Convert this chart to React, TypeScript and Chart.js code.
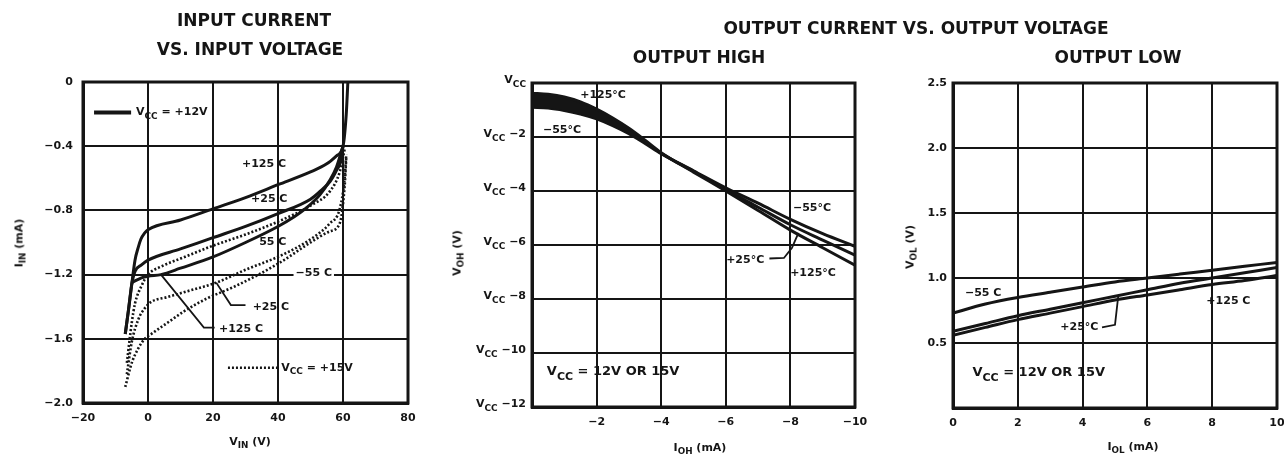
import React, { useEffect, useRef } from 'react';
import { Chart, registerables } from 'chart.js';

Chart.register(...registerables);

const INK = '#151515';
const FAM = "'DejaVu Sans', 'Liberation Sans', sans-serif";

// ---------- Panel 1: input current vs input voltage ----------
const P1_S125_X = [-7, -6, -5, -4, -3, -2.2, -1, 0, 10, 20, 30, 40, 50, 55, 58, 60, 61, 61.5];
const P1_S125_Y = [-1.57, -1.42, -1.26, -1.11, -1.03, -0.98, -0.94, -0.92, -0.86, -0.79, -0.72, -0.64, -0.56, -0.51, -0.46, -0.4, -0.2, 0];
const P1_S25_X = [-7, -6, -5, -4, -2, 0, 10, 20, 30, 40, 50, 53, 56, 58, 59.5, 60];
const P1_S25_Y = [-1.57, -1.42, -1.26, -1.18, -1.14, -1.11, -1.04, -0.97, -0.9, -0.82, -0.73, -0.68, -0.62, -0.55, -0.48, -0.4];
const P1_SM55_X = [-5, -2, 0, 4, 10, 20, 30, 40, 45, 49, 53, 56, 58, 60];
const P1_SM55_Y = [-1.25, -1.22, -1.21, -1.2, -1.16, -1.09, -1.0, -0.9, -0.84, -0.78, -0.7, -0.61, -0.53, -0.4];
const P1_D125_X = [-6.5, -5, -4, -2, 0, 4, 10, 20, 30, 40, 50, 56, 59, 60.5];
const P1_D125_Y = [-1.75, -1.5, -1.38, -1.27, -1.2, -1.15, -1.1, -1.02, -0.95, -0.87, -0.77, -0.68, -0.56, -0.42];
const P1_D25_X = [-6.5, -5, -3, -1, 1, 6, 11, 21, 30, 41, 50, 56, 59, 60.5, 61];
const P1_D25_Y = [-1.82, -1.62, -1.48, -1.41, -1.37, -1.34, -1.31, -1.25, -1.17, -1.08, -0.98, -0.88, -0.79, -0.6, -0.45];
const P1_DM55_X = [-7, -5, -3, -1, 1, 6, 11, 18, 26, 34, 41, 50, 56, 59, 60.5, 61];
const P1_DM55_Y = [-1.9, -1.75, -1.66, -1.6, -1.57, -1.5, -1.43, -1.35, -1.28, -1.2, -1.12, -1.0, -0.93, -0.88, -0.65, -0.47];

// ---------- Panel 2: output high ----------
const P2_X = [0, -0.5, -1, -1.5, -2, -2.5, -3, -3.5, -4, -5, -6, -7, -8, -9, -10];
const P2_125 = [-0.38, -0.42, -0.52, -0.7, -0.97, -1.3, -1.68, -2.12, -2.58, -3.3, -4.0, -4.72, -5.45, -6.1, -6.75];
const P2_25 = [-0.63, -0.66, -0.74, -0.9, -1.14, -1.44, -1.78, -2.18, -2.6, -3.27, -3.95, -4.6, -5.25, -5.82, -6.38];
const P2_M55 = [-0.9, -0.93, -1.02, -1.15, -1.33, -1.58, -1.88, -2.24, -2.62, -3.25, -3.88, -4.45, -5.05, -5.58, -6.05];

// ---------- Panel 3: output low ----------
const P3_X = [0, 1, 2, 3, 4, 5, 6, 7, 8, 9, 10];
const P3_M55 = [0.73, 0.8, 0.85, 0.89, 0.93, 0.97, 1.0, 1.03, 1.06, 1.09, 1.12];
const P3_25 = [0.59, 0.65, 0.71, 0.76, 0.81, 0.86, 0.91, 0.96, 1.0, 1.04, 1.08];
const P3_125 = [0.56, 0.62, 0.68, 0.73, 0.78, 0.83, 0.87, 0.91, 0.95, 0.98, 1.02];

const W = 1284;
const H = 460;

type Note = { x: number; y: number; text: string; size?: number; align?: 'left' | 'center' | 'right'; bg?: boolean };
type Lead = { xs: number[]; ys: number[]; w?: number; dash?: number[] };

const P1_NOTES: Note[] = [
  { x: 35.7, y: -0.51, text: '+125 C' },
  { x: 37.3, y: -0.73, text: '+25 C' },
  { x: 38.4, y: -1.0, text: '55 C' },
  { x: 51, y: -1.19, text: '−55 C', bg: true },
  { x: 37.8, y: -1.4, text: '+25 C' },
  { x: 28.6, y: -1.54, text: '+125 C' },
  { x: -3.7, y: -0.19, text: 'V_{CC} = +12V', align: 'left' },
  { x: 41, y: -1.78, text: 'V_{CC} = +15V', align: 'left' },
];
const P1_LEADS: Lead[] = [
  { xs: [21, 25.5, 30], ys: [-1.25, -1.39, -1.39] },
  { xs: [4, 17.2, 20.5], ys: [-1.2, -1.53, -1.53] },
  { xs: [-16.6, -5.2], ys: [-0.19, -0.19], w: 4 },
  { xs: [24.6, 40], ys: [-1.78, -1.78], w: 2.5, dash: [2, 2] },
];

const P2_NOTES: Note[] = [
  { x: -2.2, y: -0.44, text: '+125°C' },
  { x: -0.93, y: -1.74, text: '−55°C' },
  { x: -8.67, y: -4.63, text: '−55°C' },
  { x: -6.6, y: -6.56, text: '+25°C' },
  { x: -8.7, y: -7.04, text: '+125°C' },
  { x: -0.46, y: -10.7, text: 'V_{CC} = 12V OR 15V', align: 'left', size: 13 },
];
const P2_LEADS: Lead[] = [
  { xs: [-7.35, -7.8, -8.05, -8.25], ys: [-6.5, -6.48, -6.1, -5.55] },
];

const P3_NOTES: Note[] = [
  { x: 0.93, y: 0.88, text: '−55 C' },
  { x: 3.9, y: 0.62, text: '+25°C' },
  { x: 8.5, y: 0.82, text: '+125 C' },
  { x: 0.6, y: 0.27, text: 'V_{CC} = 12V OR 15V', align: 'left', size: 13 },
];
const P3_LEADS: Lead[] = [
  { xs: [4.6, 5.0, 5.1], ys: [0.62, 0.64, 0.86] },
];

function pts(xs: number[], ys: number[]) {
  return xs.map((x, i) => ({ x, y: ys[i] }));
}

function parseRich(s: string): [string, boolean][] {
  const out: [string, boolean][] = [];
  const re = /_\{([^}]*)\}/g;
  let last = 0;
  let m: RegExpExecArray | null;
  while ((m = re.exec(s))) {
    if (m.index > last) out.push([s.slice(last, m.index), false]);
    out.push([m[1], true]);
    last = re.lastIndex;
  }
  if (last < s.length) out.push([s.slice(last), false]);
  return out;
}

function drawRich(ctx: CanvasRenderingContext2D, px: number, py: number, text: string, size: number, align: string, bg = false) {
  const parts = parseRich(text);
  const sub = Math.round(size * 0.82);
  const f = (s: boolean) => `bold ${s ? sub : size}px ${FAM}`;
  let total = 0;
  const ws = parts.map(([t, s]) => {
    ctx.font = f(s);
    const w = ctx.measureText(t).width;
    total += w;
    return w;
  });
  let cx = align === 'left' ? px : align === 'right' ? px - total : px - total / 2;
  if (bg) {
    ctx.fillStyle = '#fff';
    ctx.fillRect(cx - 2, py - size * 0.6, total + 4, size * 1.2);
  }
  ctx.fillStyle = INK;
  ctx.textBaseline = 'middle';
  ctx.textAlign = 'left';
  parts.forEach(([t, s], i) => {
    ctx.font = f(s);
    ctx.fillText(t, cx, s ? py + size * 0.38 : py);
    cx += ws[i];
  });
}

function annot(notes: Note[], leads: Lead[], vccTicks: boolean) {
  return {
    id: 'annot',
    afterDatasetsDraw(chart: any) {
      const { ctx, chartArea: a } = chart;
      const x = chart.scales.x;
      const y = chart.scales.y;
      ctx.save();
      ctx.strokeStyle = INK;
      ctx.lineWidth = 3;
      ctx.strokeRect(a.left, a.top, a.right - a.left, a.bottom - a.top);
      leads.forEach((l) => {
        ctx.beginPath();
        l.xs.forEach((v, i) => {
          const px = x.getPixelForValue(v);
          const py = y.getPixelForValue(l.ys[i]);
          if (i) ctx.lineTo(px, py);
          else ctx.moveTo(px, py);
        });
        ctx.lineWidth = l.w || 1.8;
        ctx.setLineDash(l.dash || []);
        ctx.stroke();
      });
      ctx.setLineDash([]);
      notes.forEach((n) =>
        drawRich(ctx, x.getPixelForValue(n.x), y.getPixelForValue(n.y), n.text, n.size || 11, n.align || 'center', !!n.bg)
      );
      if (vccTicks) {
        y.ticks.forEach((t: any) => {
          const v = t.value;
          const txt = v === 0 ? 'V_{CC}' : `V_{CC} −${Math.abs(v)}`;
          drawRich(ctx, a.left - 6, y.getPixelForValue(v) - 3, txt, 11, 'right');
        });
      }
      ctx.restore();
    },
  };
}

type Area = { l: number; t: number; r: number; b: number };

function baseOptions(area: Area, yW: number, xH: number, xs: any, ys: any) {
  const grid = { color: INK, lineWidth: 2, drawTicks: false };
  const border = { display: true, color: INK, width: 3 };
  const tickFont = { family: FAM, weight: 'bold' as const, size: 11 };
  return {
    responsive: false,
    animation: false as const,
    devicePixelRatio: 1,
    events: [] as any[],
    layout: { padding: { left: area.l - yW, top: area.t, right: W - area.r, bottom: H - area.b - xH } },
    plugins: { legend: { display: false }, tooltip: { enabled: false }, title: { display: false } },
    elements: { point: { radius: 0 } },
    scales: {
      x: {
        type: 'linear' as const,
        grid,
        border,
        ...xs,
        ticks: { color: INK, font: tickFont, padding: 9, autoSkip: false, maxRotation: 0, ...xs.ticks },
        afterFit: (s: any) => {
          s.height = xH;
          s.paddingLeft = 0;
          s.paddingRight = 0;
        },
      },
      y: {
        type: 'linear' as const,
        grid,
        border,
        ...ys,
        ticks: { color: INK, font: tickFont, autoSkip: false, ...ys.ticks },
        afterFit: (s: any) => {
          s.width = yW;
          s.paddingTop = 0;
          s.paddingBottom = 0;
        },
      },
    },
  };
}

const solid = (data: any[]) => ({
  data,
  borderColor: INK,
  borderWidth: 3,
  pointRadius: 0,
  cubicInterpolationMode: 'monotone' as const,
  fill: false,
});
const dotted = (data: any[]) => ({
  data,
  borderColor: INK,
  borderWidth: 2.6,
  borderDash: [2, 2],
  pointRadius: 0,
  cubicInterpolationMode: 'monotone' as const,
  fill: false,
});

function config1() {
  return {
    type: 'line' as const,
    data: {
      datasets: [
        solid(pts(P1_S125_X, P1_S125_Y)),
        solid(pts(P1_S25_X, P1_S25_Y)),
        solid(pts(P1_SM55_X, P1_SM55_Y)),
        dotted(pts(P1_D125_X, P1_D125_Y)),
        dotted(pts(P1_D25_X, P1_D25_Y)),
        dotted(pts(P1_DM55_X, P1_DM55_Y)),
      ],
    },
    options: baseOptions(
      { l: 83, t: 82, r: 408, b: 403 },
      60,
      30,
      {
        min: -20,
        max: 80,
        ticks: { stepSize: 20, callback: (v: number) => (v < 0 ? '−' + Math.abs(v) : String(v)) },
      },
      {
        min: -2,
        max: 0,
        ticks: { stepSize: 0.4, padding: 10, callback: (v: number) => (v === 0 ? '0' : '−' + Math.abs(v).toFixed(1)) },
      }
    ),
    plugins: [annot(P1_NOTES, P1_LEADS, false)],
  };
}

function config2() {
  const top = solid(pts(P2_X, P2_125));
  (top as any).fill = { target: 2, above: INK, below: 'rgba(0,0,0,0)' };
  (top as any).backgroundColor = INK;
  return {
    type: 'line' as const,
    data: {
      datasets: [top, solid(pts(P2_X, P2_25)), solid(pts(P2_X, P2_M55))],
    },
    options: baseOptions(
      { l: 532, t: 83, r: 855, b: 407 },
      80,
      30,
      {
        min: -10,
        max: 0,
        reverse: true,
        ticks: { stepSize: 2, callback: (v: number) => (v === 0 ? '' : '−' + Math.abs(v)) },
      },
      {
        min: -12,
        max: 0,
        ticks: { stepSize: 2, callback: () => '' },
      }
    ),
    plugins: [annot(P2_NOTES, P2_LEADS, true)],
  };
}

function config3() {
  return {
    type: 'line' as const,
    data: {
      datasets: [solid(pts(P3_X, P3_M55)), solid(pts(P3_X, P3_25)), solid(pts(P3_X, P3_125))],
    },
    options: baseOptions(
      { l: 953, t: 83, r: 1277, b: 408 },
      40,
      30,
      {
        min: 0,
        max: 10,
        ticks: { stepSize: 2, callback: (v: number) => String(v) },
      },
      {
        min: 0,
        max: 2.5,
        ticks: { stepSize: 0.5, padding: 6, callback: (v: number) => (v === 0 ? '' : v.toFixed(1)) },
      }
    ),
    plugins: [annot(P3_NOTES, P3_LEADS, false)],
  };
}

const canvasStyle: React.CSSProperties = { position: 'absolute', left: 0, top: 0, width: W, height: H };

function Label(props: { x: number; y: number; size: number; rotate?: boolean; children: React.ReactNode }) {
  return (
    <div
      style={{
        position: 'absolute',
        left: props.x,
        top: props.y,
        transform: `translate(-50%, -50%)${props.rotate ? ' rotate(-90deg)' : ''}`,
        whiteSpace: 'nowrap',
        font: `bold ${props.size}px ${FAM}`,
        color: INK,
        lineHeight: 1,
      }}
    >
      {props.children}
    </div>
  );
}

const Sub = (p: { children: React.ReactNode }) => (
  <span style={{ fontSize: '0.8em', position: 'relative', top: '0.35em' }}>{p.children}</span>
);

export default function App() {
  const r1 = useRef<HTMLCanvasElement>(null);
  const r2 = useRef<HTMLCanvasElement>(null);
  const r3 = useRef<HTMLCanvasElement>(null);

  useEffect(() => {
    const charts = [
      new Chart(r1.current as HTMLCanvasElement, config1() as any),
      new Chart(r2.current as HTMLCanvasElement, config2() as any),
      new Chart(r3.current as HTMLCanvasElement, config3() as any),
    ];
    return () => charts.forEach((c) => c.destroy());
  }, []);

  return (
    <div style={{ position: 'absolute', left: 0, top: 0, width: W, height: H, background: '#fff', overflow: 'hidden' }}>
      <canvas ref={r1} width={W} height={H} style={canvasStyle} />
      <canvas ref={r2} width={W} height={H} style={canvasStyle} />
      <canvas ref={r3} width={W} height={H} style={canvasStyle} />

      <Label x={254} y={20} size={17}>INPUT CURRENT</Label>
      <Label x={250} y={49} size={17}>VS. INPUT VOLTAGE</Label>
      <Label x={916} y={28} size={17}>OUTPUT CURRENT VS. OUTPUT VOLTAGE</Label>
      <Label x={699} y={57} size={17}>OUTPUT HIGH</Label>
      <Label x={1118} y={57} size={17}>OUTPUT LOW</Label>

      <Label x={250} y={441} size={11}>
        V<Sub>IN</Sub> (V)
      </Label>
      <Label x={19} y={243} size={11} rotate>
        I<Sub>IN</Sub> (mA)
      </Label>
      <Label x={700} y={447} size={11}>
        I<Sub>OH</Sub> (mA)
      </Label>
      <Label x={457} y={253} size={11} rotate>
        V<Sub>OH</Sub> (V)
      </Label>
      <Label x={1133} y={446} size={11}>
        I<Sub>OL</Sub> (mA)
      </Label>
      <Label x={910} y={247} size={11} rotate>
        V<Sub>OL</Sub> (V)
      </Label>
    </div>
  );
}
